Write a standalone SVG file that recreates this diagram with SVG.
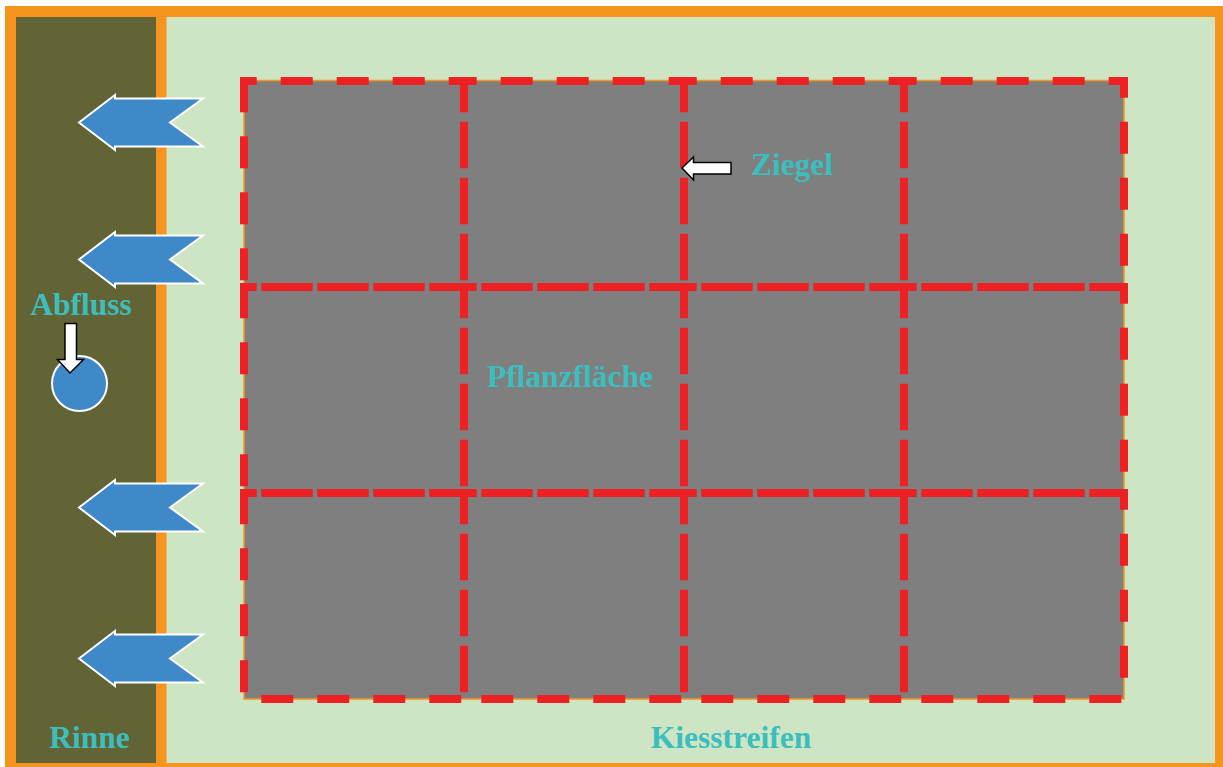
<svg xmlns="http://www.w3.org/2000/svg" width="1223" height="767" viewBox="0 0 1223 767">
  <defs>
    <style>
      .lbl { font-family: "Liberation Serif", "Times New Roman", serif; font-weight: bold; font-size: 31.5px; fill: #3CBEBE; text-anchor: middle; }
      .cell { fill: none; stroke: #ED2024; stroke-width: 8; stroke-dasharray: 32 24; stroke-dashoffset: 19.3; stroke-linecap: butt; }
      .flow { fill: #3F89C8; stroke: #FFFFFF; stroke-width: 2; stroke-linejoin: miter; }
      .ptr { fill: #FFFFFF; stroke: #000000; stroke-width: 1.5; stroke-linejoin: miter; }
    </style>
  </defs>
  <rect x="0" y="0" width="1223" height="767" fill="#FFFFFF"/>
  <g id="frame">
    <rect x="5" y="6" width="1218" height="761" fill="#F5951F"/>
  </g>
  <g id="rinne">
    <rect x="16" y="17" width="140" height="746" fill="#636435"/>
    <text class="lbl" x="89.5" y="748">Rinne</text>
  </g>
  <g id="kiesstreifen">
    <rect x="166.5" y="17" width="1048.5" height="746" fill="#CDE5C2"/>
    <text class="lbl" x="731" y="748">Kiesstreifen</text>
  </g>
  <g id="pflanzflaeche">
    <rect x="244" y="80.5" width="880" height="618.5" fill="#7F7F7F" stroke="#F5951F" stroke-width="1.5"/>
  </g>
  <g id="ziegel-grid">
    <path class="cell" d="M244 81 H464 V287 H244 Z"/>
    <path class="cell" d="M464 81 H684 V287 H464 Z"/>
    <path class="cell" d="M684 81 H904 V287 H684 Z"/>
    <path class="cell" d="M904 81 H1124 V287 H904 Z"/>
    <path class="cell" d="M244 287 H464 V493 H244 Z"/>
    <path class="cell" d="M464 287 H684 V493 H464 Z"/>
    <path class="cell" d="M684 287 H904 V493 H684 Z"/>
    <path class="cell" d="M904 287 H1124 V493 H904 Z"/>
    <path class="cell" d="M244 493 H464 V699 H244 Z"/>
    <path class="cell" d="M464 493 H684 V699 H464 Z"/>
    <path class="cell" d="M684 493 H904 V699 H684 Z"/>
    <path class="cell" d="M904 493 H1124 V699 H904 Z"/>
  </g>
  <g id="pflanzflaeche-label">
    <text class="lbl" x="570" y="387">Pflanzfläche</text>
  </g>
  <g id="ziegel-label">
    <text class="lbl" x="792" y="175">Ziegel</text>
  </g>
  <g id="abfluss">
    <circle cx="79.5" cy="383.5" r="27.5" fill="#3F89C8" stroke="#FFFFFF" stroke-width="2"/>
    <text class="lbl" x="81" y="315">Abfluss</text>
  </g>
  <g id="connectors">
    <polygon class="flow" points="79,122.5 115,95 115,98.5 203,98.5 170,122.5 203,146.5 115,146.5 115,150"/>
    <polygon class="flow" points="79,259.5 115,232 115,235.5 203,235.5 170,259.5 203,283.5 115,283.5 115,287"/>
    <polygon class="flow" points="79,507.5 115,480 115,483.5 203,483.5 170,507.5 203,531.5 115,531.5 115,535"/>
    <polygon class="flow" points="79,658.5 115,631 115,634.5 203,634.5 170,658.5 203,682.5 115,682.5 115,686"/>
    <polygon class="ptr" points="65,323.5 76.5,323.5 76.5,359.5 83.5,359.5 70,373 57.5,359.5 65,359.5"/>
    <polygon class="ptr" points="682,168 693.5,157 693.5,162.5 731,162.5 731,174 693.5,174 693.5,180"/>
  </g>
</svg>
